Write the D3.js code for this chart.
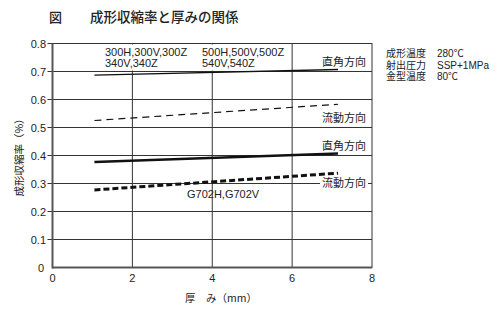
<!DOCTYPE html>
<html>
<head>
<meta charset="utf-8">
<script src="https://cdn.jsdelivr.net/npm/d3@7"></script>
<style>
  html, body { margin: 0; padding: 0; background: #fff; }
  svg { display: block; }
  text { font-family: "Noto Sans CJK JP", "Noto Sans", sans-serif; fill: #222; }
  text.latin, tspan.latin { font-family: "Liberation Sans", Arial, sans-serif; }
  text.compact { font-family: "Liberation Sans", "Noto Sans CJK JP", sans-serif; }
</style>
</head>
<body>
<svg id="chart" width="500" height="318"></svg>
<script>
// Shrinkage vs. thickness: values at the two ends of each measured range
const thickness = [1.05, 7.15];
const perp300 = [0.687, 0.707];   // 直角方向, 300/500 grades
const flow300 = [0.525, 0.583];   // 流動方向, 300/500 grades
const perpG702 = [0.377, 0.407];  // 直角方向, G702
const flowG702 = [0.277, 0.337];  // 流動方向, G702

const xTicks = [0, 2, 4, 6, 8];
const yTicks = [0, 0.1, 0.2, 0.3, 0.4, 0.5, 0.6, 0.7, 0.8];
const conditionNames = ["成形温度", "射出圧力", "金型温度"];
const conditionValues = ["280℃", "SSP+1MPa", "80℃"];

const svg = d3.select("#chart");
const m = { left: 52.5, right: 372, top: 43.5, bottom: 267.5 };

const x = d3.scaleLinear().domain([0, 8]).range([m.left, m.right]);
const y = d3.scaleLinear().domain([0, 0.8]).range([m.bottom, m.top]);

// Title
svg.append("text").attr("x", 49).attr("y", 22).attr("font-size", 13).attr("font-weight", 500).text("図");
svg.append("text").attr("x", 90).attr("y", 22).attr("font-size", 13.5).attr("font-weight", 500).text("成形収縮率と厚みの関係");

// Grid
const grid = svg.append("g").attr("stroke", "#333").attr("stroke-width", 1);
grid.selectAll("line.h").data(yTicks.slice(1)).join("line")
  .attr("x1", m.left - 5).attr("x2", m.right)
  .attr("y1", d => y(d)).attr("y2", d => y(d));
grid.selectAll("line.v").data(xTicks.slice(1, -1)).join("line")
  .attr("x1", d => x(d)).attr("x2", d => x(d))
  .attr("y1", m.top).attr("y2", m.bottom);

// Frame
svg.append("rect")
  .attr("x", m.left).attr("y", m.top)
  .attr("width", m.right - m.left).attr("height", m.bottom - m.top)
  .attr("fill", "none").attr("stroke", "#333").attr("stroke-width", 1);
svg.append("line").attr("x1", m.left).attr("x2", m.left).attr("y1", m.top).attr("y2", m.bottom + 1)
  .attr("stroke", "#555").attr("stroke-width", 2);
svg.append("line").attr("x1", m.left).attr("x2", m.right).attr("y1", m.bottom).attr("y2", m.bottom)
  .attr("stroke", "#555").attr("stroke-width", 2);

// Tick labels
svg.selectAll("text.yt").data(yTicks).join("text")
  .attr("class", "latin")
  .attr("x", d => d === 0 ? 44 : 46).attr("y", d => y(d) + 4)
  .attr("text-anchor", "end").attr("font-size", 11)
  .text(d => d === 0 ? "0" : d3.format(".1f")(d));
svg.selectAll("text.xt").data(xTicks).join("text")
  .attr("class", "latin")
  .attr("x", d => x(d)).attr("y", 282)
  .attr("text-anchor", "middle").attr("font-size", 11)
  .text(d => d);

// Axis titles
svg.append("text").attr("transform", "translate(23,155) rotate(-90)")
  .attr("text-anchor", "middle").attr("font-size", 10.5).text("成形収縮率（%）");
svg.append("text").attr("x", 185).attr("y", 302).attr("font-size", 10.5).text("厚　み（mm）");

// White panel behind the grade labels between the 0.7 and 0.8 gridlines
svg.append("rect").attr("x", 100).attr("y", y(0.8) + 1).attr("width", 188)
  .attr("height", y(0.7) - y(0.8) - 2).attr("fill", "#fff");

// Series lines
const line = d3.line().x(d => x(d[0])).y(d => y(d[1]));
const pts = vals => thickness.map((t, i) => [t, vals[i]]);
svg.append("path").attr("d", line(pts(perp300))).attr("fill", "none").attr("stroke", "#111").attr("stroke-width", 1.4);
svg.append("path").attr("d", line(pts(flow300))).attr("fill", "none").attr("stroke", "#111").attr("stroke-width", 1.2).attr("stroke-dasharray", "7,5");
svg.append("path").attr("d", line(pts(perpG702))).attr("fill", "none").attr("stroke", "#111").attr("stroke-width", 2.6);
svg.append("path").attr("d", line(pts(flowG702))).attr("fill", "none").attr("stroke", "#111").attr("stroke-width", 3).attr("stroke-dasharray", "6,3");

// Direction labels
const dirLabel = (txt, yy) =>
  svg.append("text").attr("x", 322).attr("y", yy).attr("font-size", 11).text(txt);
// background behind the label sitting on the 0.3 gridline
svg.append("rect").attr("x", 320).attr("y", 177).attr("width", 48).attr("height", 13).attr("fill", "#fff");
dirLabel("直角方向", 66);
dirLabel("流動方向", 122);
dirLabel("直角方向", 150);
dirLabel("流動方向", 187);

// Grade labels (multi-line blocks)
const grade = (lines, xx, yy) => {
  const t = svg.append("text").attr("class", "latin").attr("x", xx).attr("y", yy).attr("font-size", 11);
  t.selectAll("tspan").data(lines).join("tspan")
    .attr("x", xx).attr("dy", (d, i) => i === 0 ? 0 : 10.7).text(d => d);
};
grade(["300H,300V,300Z", "340V,340Z"], 105, 56);
grade(["500H,500V,500Z", "540V,540Z"], 202, 56);
grade(["G702H,G702V"], 187, 198);

// Molding conditions block
const cond = svg.append("text").attr("class", "compact").attr("font-size", 10);
conditionNames.forEach((n, i) => {
  cond.append("tspan").attr("x", 386).attr("y", 57 + i * 11.5).text(n);
  cond.append("tspan").attr("x", 437).attr("y", 57 + i * 11.5).text(conditionValues[i]);
});
</script>
</body>
</html>
